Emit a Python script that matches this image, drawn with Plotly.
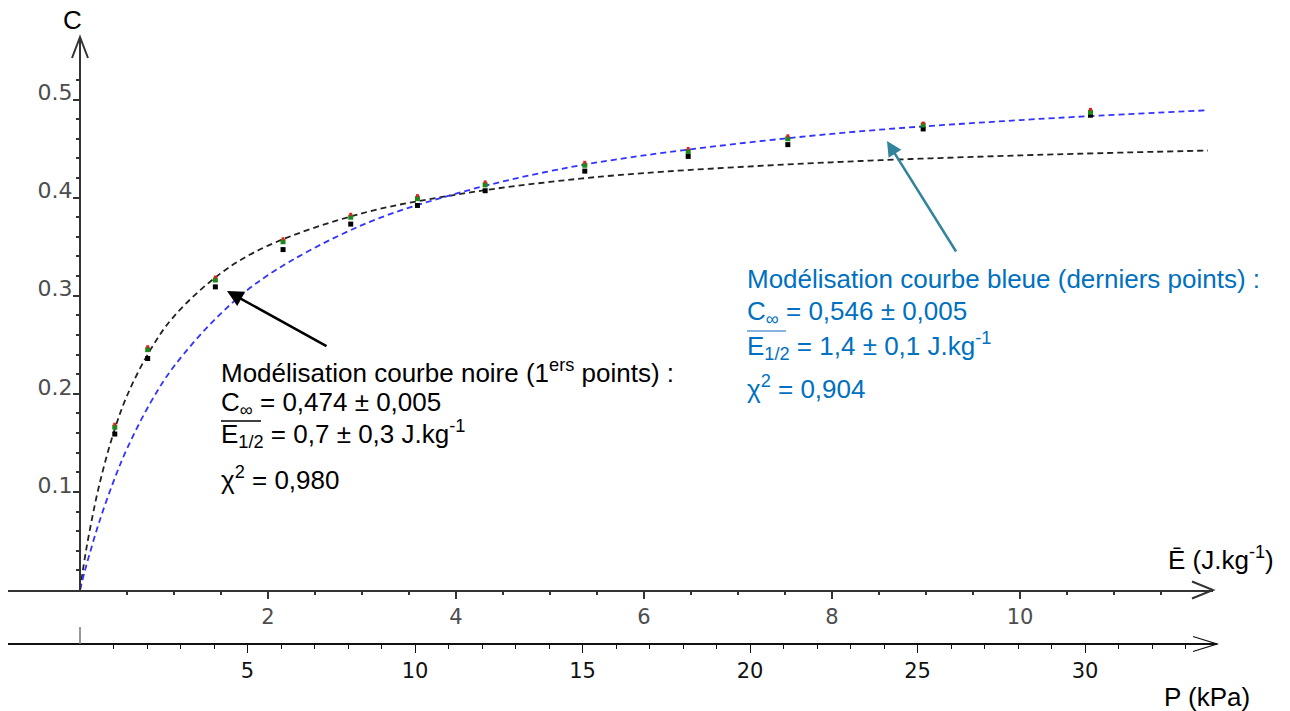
"""Adsorption C vs specific energy E (and pressure P), two Langmuir-type fits."""

import plotly.graph_objects as go

W, H = 1290, 711

# measured points
E_MES = [0.37, 0.72, 1.44, 2.16, 2.88, 3.59, 4.31, 5.37, 6.47, 7.53, 8.97, 10.75]
P_KPA = [1, 2, 4, 6, 8, 10, 12, 15, 18, 21, 25, 30]
C_RED = [0.169, 0.248, 0.319, 0.358, 0.383, 0.402, 0.416, 0.436, 0.450, 0.463, 0.476, 0.490]
C_GREEN = [0.166, 0.245, 0.316, 0.355, 0.380, 0.399, 0.413, 0.433, 0.447, 0.460, 0.474, 0.487]
C_BLACK = [0.159, 0.236, 0.309, 0.347, 0.373, 0.392, 0.407, 0.427, 0.442, 0.454, 0.470, 0.484]

# fitted curves
E_FIT = [0, 0.05, 0.1, 0.2, 0.35, 0.5, 0.75, 1, 1.5, 2, 3, 4, 5, 6, 8, 10, 12]
C_FIT_NOIRE = [0, 0.032, 0.059, 0.105, 0.158, 0.198, 0.245, 0.279, 0.323, 0.351,
               0.384, 0.403, 0.416, 0.425, 0.436, 0.443, 0.448]
C_FIT_BLEUE = [0, 0.019, 0.036, 0.068, 0.109, 0.144, 0.191, 0.228, 0.282, 0.321,
               0.372, 0.404, 0.427, 0.443, 0.465, 0.479, 0.489]

# axis ticks
E_TICKS = [2, 4, 6, 8, 10]
E_MINOR = [0.5 * i for i in range(1, 24)]
P_TICKS = [5, 10, 15, 20, 25, 30]
P_MINOR = list(range(1, 34))
C_TICKS = [0.1, 0.2, 0.3, 0.4, 0.5]
C_TICKTEXT = ["0.1", "0.2", "0.3", "0.4", "0.5"]
C_MINOR = [round(0.02 * i, 2) for i in range(1, 27)]

# pixel geometry of the original drawing
X0, KX = 80, 94.0      # px of E=0, px per J/kg
Y0, KY = 590, 981.0    # px of C=0, px per unit of C
KP = 33.5              # px per kPa
Y_P_AXIS = 644

_BLUE_TXT = "#0070C0"
_TEAL = "#31849B"
_TXT_FONT = "Liberation Sans"
_TXT_SIZE = 26
_TICK_FONT = "DejaVu Sans"


def ex(px):
    return (px - X0) / KX


def cy(py):
    return (Y0 - py) / KY


def paper(px, py):
    return px / W, 1 - py / H


fig = go.Figure()

fig.add_trace(go.Scatter(
    x=E_FIT, y=C_FIT_NOIRE, mode="lines", line_shape="spline",
    line=dict(color="#222222", width=1.8, dash="6px,4px"), hoverinfo="skip",
))
fig.add_trace(go.Scatter(
    x=E_FIT, y=C_FIT_BLEUE, mode="lines", line_shape="spline",
    line=dict(color="#3333FF", width=1.8, dash="6px,4px"), hoverinfo="skip",
))
fig.add_trace(go.Scatter(
    x=E_MES, y=C_BLACK, mode="markers",
    marker=dict(symbol="square", size=5, color="#000000"),
))
fig.add_trace(go.Scatter(
    x=E_MES, y=C_GREEN, mode="markers",
    marker=dict(symbol="square", size=5, color="#1a8a1a"),
))
fig.add_trace(go.Scatter(
    x=E_MES, y=C_RED, mode="markers",
    marker=dict(symbol="square", size=3, color="#e02020"),
))
# pressure scale carries the same measurements
fig.add_trace(go.Scatter(
    x=P_KPA, y=C_BLACK, xaxis="x2", mode="markers",
    marker=dict(opacity=0), hoverinfo="skip",
))

fig.update_layout(
    width=W, height=H,
    margin=dict(l=0, r=0, t=0, b=0),
    paper_bgcolor="white", plot_bgcolor="rgba(0,0,0,0)",
    showlegend=False,
    xaxis=dict(
        domain=[8 / W, 1213 / W], range=[ex(8), ex(1213)],
        anchor="y", showgrid=False, zeroline=False,
        showline=True, linecolor="#333333", linewidth=2,
        tickmode="array", tickvals=E_TICKS, ticktext=[str(v) for v in E_TICKS],
        ticks="outside", ticklen=7, tickwidth=1.5, tickcolor="#333333",
        tickfont=dict(family=_TICK_FONT, size=21, color="#4d4d4d"),
        minor=dict(tickmode="array", tickvals=E_MINOR, ticks="outside",
                   ticklen=3, tickwidth=2, tickcolor="#333333"),
    ),
    xaxis2=dict(
        domain=[8 / W, 1217 / W], range=[(8 - X0) / KP, (1217 - X0) / KP],
        anchor="free", position=1 - Y_P_AXIS / H, showgrid=False, zeroline=False,
        showline=True, linecolor="#111111", linewidth=1.5,
        tickmode="array", tickvals=P_TICKS, ticktext=[str(v) for v in P_TICKS],
        ticks="outside", ticklen=8, tickwidth=1, tickcolor="#111111",
        tickfont=dict(family=_TICK_FONT, size=21, color="#111111"),
        minor=dict(tickmode="array", tickvals=P_MINOR, ticks="outside",
                   ticklen=4, tickwidth=1, tickcolor="#111111"),
    ),
    yaxis=dict(
        domain=[1 - Y0 / H, 1 - 37 / H], range=[0, cy(37)],
        anchor="free", position=X0 / W, showgrid=False, zeroline=False,
        showline=True, linecolor="#333333", linewidth=2,
        tickmode="array", tickvals=C_TICKS, ticktext=C_TICKTEXT,
        ticks="outside", ticklen=6, tickwidth=1.5, tickcolor="#333333",
        ticklabelshift=-7, ticklabelstandoff=-4,
        tickfont=dict(family=_TICK_FONT, size=22, color="#4d4d4d"),
        minor=dict(tickmode="array", tickvals=C_MINOR, ticks="outside",
                   ticklen=3, tickwidth=2, tickcolor="#333333"),
    ),
)

# axis arrowheads (open chevrons), tall tick at P = 0, overlines of E1/2
shapes = []
for (px, py), path, color, width in [
    ((1213, Y0), "M -21,8.5 L 0,0 L -21,-8.5", "#333333", 2),
    ((1217, Y_P_AXIS), "M -24,7.5 L 0,0 L -24,-7.5", "#111111", 1.3),
    ((X0, 37), "M -8,-21 L 0,0 L 8,-21", "#333333", 2),
]:
    ax_, ay_ = paper(px, py)
    shapes.append(dict(
        type="path", xref="paper", yref="paper", xsizemode="pixel", ysizemode="pixel",
        xanchor=ax_, yanchor=ay_, path=path, line=dict(color=color, width=width),
    ))
for (x0, x1, py), color in [((221, 261, 421), "#000000"), ((747, 786, 331), "#5b9bd5")]:
    a0, b0 = paper(x0, py)
    a1, _ = paper(x1, py)
    shapes.append(dict(type="line", xref="paper", yref="paper", x0=a0, x1=a1, y0=b0, y1=b0,
                       line=dict(color=color, width=1.3)))
a0, b0 = paper(X0, 627)
_, b1 = paper(X0, Y_P_AXIS)
shapes.append(dict(type="line", xref="paper", yref="paper", x0=a0, x1=a0, y0=b0, y1=b1,
                   line=dict(color="#777777", width=1.5)))
fig.update_layout(shapes=shapes)

# pointer arrows
fig.add_annotation(x=ex(227), y=cy(291), ax=ex(328), ay=cy(347), axref="x", ayref="y",
                   text="", showarrow=True, arrowhead=2, arrowsize=1.3, arrowwidth=2.5,
                   arrowcolor="#000000")
fig.add_annotation(x=ex(887), y=cy(141), ax=ex(957), ay=cy(253), axref="x", ayref="y",
                   text="", showarrow=True, arrowhead=2, arrowsize=1.2, arrowwidth=2.5,
                   arrowcolor=_TEAL)

# text blocks
TXT_NOIRE = [
    ("Modélisation courbe noire (1<sup>ers</sup> points) :", 371),
    ("C<sub>∞</sub> = 0,474 ± 0,005", 403),
    ("E<sub>1/2</sub> = 0,7 ± 0,3 J.kg<sup>-1</sup>", 434),
    ("χ<sup>2</sup> = 0,980", 478),
]
TXT_BLEUE = [
    ("Modélisation courbe bleue (derniers points) :", 279),
    ("C<sub>∞</sub> = 0,546 ± 0,005", 312),
    ("E<sub>1/2</sub> = 1,4 ± 0,1 J.kg<sup>-1</sup>", 346),
    ("χ<sup>2</sup> = 0,904", 387),
]
for lines, px, color in [(TXT_NOIRE, 219, "#000000"), (TXT_BLEUE, 745, _BLUE_TXT)]:
    for text, py in lines:
        fig.add_annotation(x=ex(px), y=cy(py), text=text, showarrow=False,
                           xanchor="left", yanchor="middle",
                           font=dict(family=_TXT_FONT, size=_TXT_SIZE, color=color))

# axis titles
for text, px, py in [("C", 72, 20), ("Ē (J.kg<sup>-1</sup>)", 1166, 558), ("P (kPa)", 1162, 697)]:
    fx, fy = paper(px, py)
    fig.add_annotation(x=fx, y=fy, xref="paper", yref="paper", text=text, showarrow=False,
                       xanchor="center" if text == "C" else "left", yanchor="middle",
                       font=dict(family=_TXT_FONT, size=_TXT_SIZE, color="#000000"))

fig.write_html(
    "out.html",
    config={"displayModeBar": False},
    post_script="document.body.style.margin = '0';",
)
